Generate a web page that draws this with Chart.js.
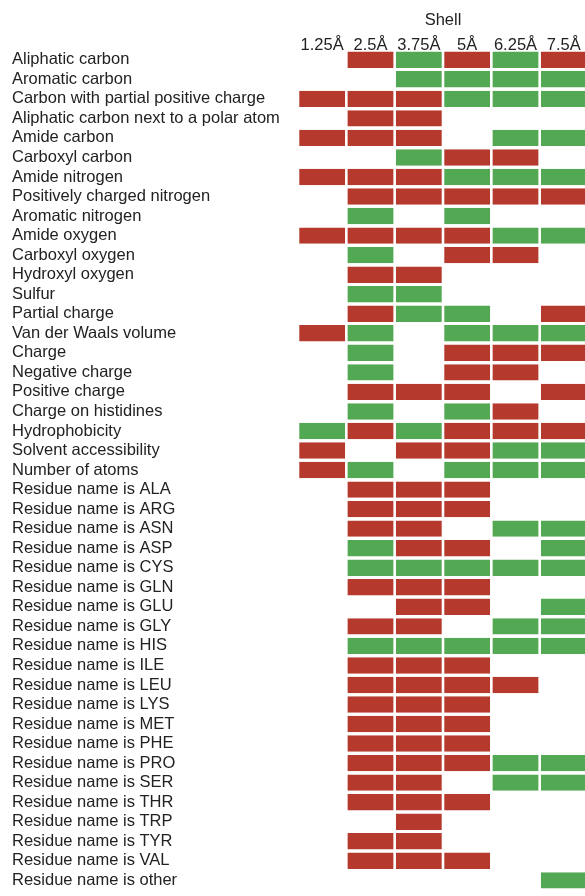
<!DOCTYPE html>
<html lang="en">
<head>
<meta charset="UTF-8">
<title>Shell features</title>
<style>
    html, body {
        margin: 0;
        padding: 0;
        background: #fff;
        overflow: hidden;
    }
    #wrap {
        width: 590px;
        height: 900px;
    }
</style>
</head>
<body>
<div id="wrap"><canvas id="heat" width="590" height="900"></canvas></div>
<script src="https://cdn.jsdelivr.net/npm/chart.js"></script>
<script>
const features = [
    'Aliphatic carbon', 'Aromatic carbon', 'Carbon with partial positive charge',
    'Aliphatic carbon next to a polar atom', 'Amide carbon', 'Carboxyl carbon',
    'Amide nitrogen', 'Positively charged nitrogen', 'Aromatic nitrogen',
    'Amide oxygen', 'Carboxyl oxygen', 'Hydroxyl oxygen', 'Sulfur', 'Partial charge',
    'Van der Waals volume', 'Charge', 'Negative charge', 'Positive charge',
    'Charge on histidines', 'Hydrophobicity', 'Solvent accessibility', 'Number of atoms',
    'Residue name is ALA', 'Residue name is ARG', 'Residue name is ASN',
    'Residue name is ASP', 'Residue name is CYS', 'Residue name is GLN',
    'Residue name is GLU', 'Residue name is GLY', 'Residue name is HIS',
    'Residue name is ILE', 'Residue name is LEU', 'Residue name is LYS',
    'Residue name is MET', 'Residue name is PHE', 'Residue name is PRO',
    'Residue name is SER', 'Residue name is THR', 'Residue name is TRP',
    'Residue name is TYR', 'Residue name is VAL', 'Residue name is other'
];

const shells = ['1.25Å', '2.5Å', '3.75Å', '5Å', '6.25Å', '7.5Å'];

// one letter per feature row: R = red, G = green, . = no cell
const shell1 = ('..R.R.R..R' + '....R....G' + 'RR........' + '..........' + '...').split('');
const shell2 = ('R.RRR.RRGR' + 'GRGRGGGRGR' + '.GRRRGGR.R' + 'GRRRRRRRR.' + 'RR.').split('');
const shell3 = ('GGRRRGRR.R' + '.RGG...R.G' + 'R.RRRRGRRR' + 'GRRRRRRRRR' + 'RR.').split('');
const shell4 = ('RGG..RGRGR' + 'R..GGRRRGR' + 'RGRR.RGRR.' + 'GRRRRRR.R.' + '.R.').split('');
const shell5 = ('GGG.GRGR.G' + 'R...GRR.RR' + 'GG..G.G..G' + 'G.R...GG..' + '...').split('');
const shell6 = ('RGG.G.GR.G' + '...RGR.R.R' + 'GG..GGG.GG' + 'G.....GG..' + '..G').split('');

const RED = '#b5392c';
const GREEN = '#53a853';
const TEXT = '#222222';
const FONT = { family: "'Liberation Sans', Arial, sans-serif", size: 16.5 };

const datasets = [shell1, shell2, shell3, shell4, shell5, shell6].map((marks, c) => ({
    label: shells[c],
    data: marks.map(m => m === '.' ? null : [c, c + 1]),
    backgroundColor: marks.map(m => m === 'R' ? RED : GREEN),
    borderColor: '#ffffff',
    borderWidth: { left: 1.3, right: 1.3, top: 0, bottom: 0 },
    borderSkipped: false,
    barPercentage: 0.84,
    categoryPercentage: 1
}));

new Chart(document.getElementById('heat'), {
    type: 'bar',
    data: { labels: features, datasets: datasets },
    options: {
        indexAxis: 'y',
        responsive: false,
        animation: false,
        grouped: false,
        layout: { padding: { left: 12, right: 2, top: 0, bottom: 2 } },
        plugins: {
            legend: { display: false },
            tooltip: { enabled: false }
        },
        scales: {
            x: {
                type: 'linear',
                position: 'top',
                min: 0,
                max: 6,
                grid: { display: false, drawTicks: false },
                border: { display: false },
                afterBuildTicks: s => { s.ticks = shells.map((_, i) => ({ value: i + 0.5 })); },
                afterFit: s => { s.height = 50; },
                ticks: {
                    color: TEXT,
                    font: FONT,
                    padding: -5,
                    autoSkip: false,
                    maxRotation: 0,
                    callback: v => shells[Math.floor(v)]
                },
                title: {
                    display: true,
                    text: 'Shell',
                    color: TEXT,
                    font: FONT,
                    padding: { top: 11, bottom: 0 }
                }
            },
            y: {
                type: 'category',
                grid: { display: false, drawTicks: false },
                border: { display: false },
                afterFit: s => { s.width = 286; },
                ticks: {
                    color: TEXT,
                    font: FONT,
                    crossAlign: 'far',
                    padding: 0,
                    autoSkip: false
                }
            }
        }
    }
});
</script>
</body>
</html>
